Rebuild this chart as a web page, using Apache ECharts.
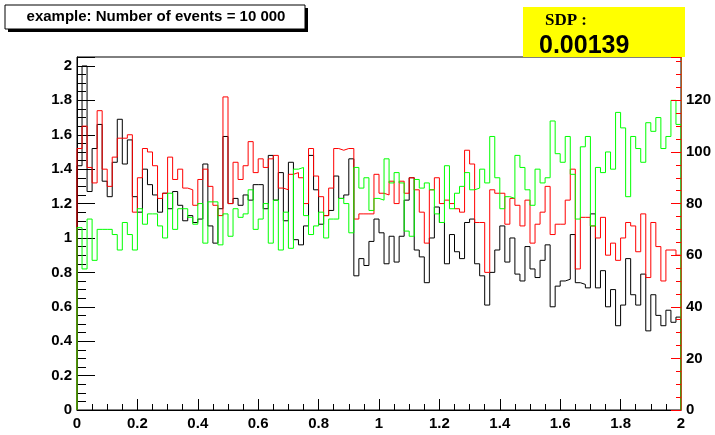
<!DOCTYPE html>
<html>
<head>
<meta charset="utf-8">
<script src="https://cdn.jsdelivr.net/npm/echarts@6/dist/echarts.min.js"></script>
<style>
html, body { margin: 0; padding: 0; background: #fff; }
#chart { width: 715px; height: 435px; }
</style>
</head>
<body>
<div id="chart"></div>
<script>
// histogram: 120 bins between 0 and 2
var nBins = 120;
var xMin = 0, xMax = 2;

var blackVals = [
  1.42, 2.00, 1.27, 1.52, 1.66, 1.33, 1.24, 1.44, 1.69, 1.43,
  1.57, 1.24, 1.15, 1.40, 1.31, 1.25, 1.15, 1.26, 1.17, 1.27,
  1.19, 1.10, 1.13, 1.09, 1.11, 1.43, 1.07, 0.97, 1.17, 1.59,
  1.20, 1.23, 1.19, 1.25, 1.22, 1.31, 1.31, 1.17, 1.48, 1.22,
  1.38, 1.10, 1.44, 0.99, 0.96, 1.07, 1.48, 1.28, 1.08, 1.13,
  1.16, 1.36, 1.23, 1.25, 1.46, 0.78, 0.88, 0.84, 0.98, 1.11,
  1.03, 0.85, 1.01, 0.86, 1.01, 1.22, 1.35, 0.93, 0.89, 0.74,
  1.00, 1.18, 1.09, 0.85, 1.02, 0.92, 0.88, 1.09, 1.11, 0.85,
  0.78, 0.61, 0.80, 0.93, 1.07, 0.86, 1.00, 0.79, 0.75, 0.95,
  0.82, 0.77, 0.87, 0.96, 0.60, 0.72, 0.75, 0.76, 1.02, 0.74,
  0.73, 0.71, 1.14, 0.71, 0.81, 0.60, 0.70, 0.49, 0.61, 0.88,
  0.67, 0.61, 0.79, 0.46, 0.67, 0.55, 0.49, 0.58, 0.51, 0.54
];

var redVals = [
  1.52, 1.65, 1.41, 1.32, 1.74, 1.40, 1.30, 1.47, 1.58, 1.58,
  1.60, 1.15, 1.35, 1.52, 1.50, 1.42, 1.23, 1.26, 1.47, 1.34,
  1.40, 1.29, 1.28, 1.19, 1.34, 1.40, 1.30, 1.19, 1.13, 1.82,
  1.20, 1.44, 1.34, 1.42, 1.56, 1.38, 1.46, 1.41, 1.46, 1.48,
  1.29, 1.28, 1.37, 1.38, 1.35, 1.20, 1.52, 1.36, 1.24, 1.13,
  1.29, 1.52, 1.51, 1.52, 1.52, 1.11, 1.14, 1.14, 1.14, 1.37,
  1.26, 1.25, 1.33, 1.20, 1.33, 1.26, 1.35, 1.28, 1.15, 0.97,
  1.28, 1.35, 1.20, 1.22, 1.20, 1.17, 1.15, 1.51, 1.43, 1.09,
  1.09, 0.80, 1.28, 1.26, 1.26, 1.08, 1.23, 1.19, 1.07, 1.22,
  0.97, 1.08, 1.15, 1.30, 1.02, 1.08, 1.08, 1.22, 1.40, 0.82,
  1.12, 1.12, 1.07, 1.00, 1.12, 0.90, 0.97, 0.87, 1.00, 1.09,
  1.07, 0.92, 1.14, 0.77, 1.09, 0.95, 0.75, 0.93, 0.93, 0.90
];

var greenVals = [
  1.06, 0.82, 1.11, 0.87, 1.05, 1.05, 1.05, 1.02, 0.93, 1.09,
  1.02, 0.93, 1.17, 1.08, 1.14, 1.14, 1.07, 1.00, 1.26, 1.05,
  1.17, 1.17, 1.12, 1.08, 1.20, 0.97, 1.21, 1.21, 0.96, 1.14,
  1.01, 1.17, 1.12, 1.14, 1.28, 1.05, 1.11, 1.20, 0.97, 1.22,
  0.93, 1.15, 0.94, 1.40, 1.41, 1.13, 1.02, 1.07, 1.15, 1.00,
  1.11, 1.11, 1.23, 1.20, 1.03, 1.41, 1.29, 1.35, 1.16, 1.23,
  1.22, 1.46, 1.32, 1.38, 1.32, 1.04, 1.01, 1.34, 1.29, 1.32,
  1.28, 1.14, 1.09, 1.42, 1.17, 1.26, 1.30, 1.38, 1.28, 1.29,
  1.40, 1.32, 1.59, 1.35, 1.17, 1.24, 1.23, 1.48, 1.41, 1.28,
  1.19, 1.40, 1.32, 1.35, 1.68, 1.49, 1.44, 1.59, 1.37, 1.11,
  1.53, 1.59, 1.07, 1.41, 1.38, 1.50, 1.40, 1.73, 1.64, 1.24,
  1.59, 1.52, 1.44, 1.67, 1.62, 1.70, 1.52, 1.59, 1.80, 1.66
];

var xTickLabels = ['0', '0.2', '0.4', '0.6', '0.8', '1', '1.2', '1.4', '1.6', '1.8', '2'];
var leftTickLabels = ['0', '0.2', '0.4', '0.6', '0.8', '1', '1.2', '1.4', '1.6', '1.8', '2'];
var rightTickLabels = ['0', '20', '40', '60', '80', '100', '120'];

var titleText = 'example: Number of events = 10 000';
var boxLabel = 'SDP :';
var boxValue = '0.00139';

var chart = echarts.init(document.getElementById('chart'));

// build step outline like ROOT draws a TH1
function histLine(vals) {
  var w = (xMax - xMin) / nBins;
  var d = [[xMin, 0]];
  for (var i = 0; i < vals.length; i++) {
    d.push([xMin + i * w, vals[i]]);
  }
  d.push([xMax, vals[vals.length - 1]]);
  d.push([xMax, 0]);
  return d;
}

function histSeries(vals, color) {
  return {
    type: 'line',
    step: 'end',
    data: histLine(vals),
    symbol: 'none',
    lineStyle: { color: color, width: 1 },
    silent: true
  };
}

var labelFont = {
  color: '#000',
  fontFamily: 'Liberation Sans',
  fontWeight: 'bold',
  fontSize: 15
};

option = {
  animation: false,
  backgroundColor: '#fff',
  grid: {
    left: 77, right: 34, top: 57, bottom: 25,
    show: true, borderColor: '#000', borderWidth: 1
  },
  xAxis: {
    type: 'value', min: xMin, max: xMax, interval: 0.2,
    axisLine: { lineStyle: { color: '#000' } },
    axisTick: { inside: true, length: 11, lineStyle: { color: '#000' } },
    minorTick: { show: true, splitNumber: 4, length: 6, lineStyle: { color: '#000' } },
    splitLine: { show: false },
    axisLabel: Object.assign({
      margin: 6,
      formatter: function (v) { return xTickLabels[Math.round(v / 0.2)]; }
    }, labelFont)
  },
  yAxis: [{
    type: 'value', min: 0, max: 2.052, interval: 0.2,
    axisLine: { show: true, lineStyle: { color: '#000' } },
    axisTick: { inside: true, length: 18, lineStyle: { color: '#000' } },
    minorTick: { show: true, splitNumber: 4, length: 9, lineStyle: { color: '#000' } },
    splitLine: { show: false },
    axisLabel: Object.assign({
      margin: 5, showMaxLabel: false,
      formatter: function (v) { return leftTickLabels[Math.round(v / 0.2)]; }
    }, labelFont)
  }, {
    type: 'value', position: 'right', min: 0, max: 136.8, interval: 20,
    z: 5,
    axisLine: { show: true, lineStyle: { color: '#b5541b' } },
    axisTick: { inside: true, length: 10, lineStyle: { color: '#ff0000' } },
    minorTick: { show: true, splitNumber: 4, length: 5, lineStyle: { color: '#ff0000' } },
    splitLine: { show: false },
    axisLabel: Object.assign({
      margin: 5, showMaxLabel: false,
      formatter: function (v) { return rightTickLabels[Math.round(v / 20)]; }
    }, labelFont)
  }],
  series: [
    histSeries(blackVals, '#000000'),
    histSeries(redVals, '#ff0000'),
    histSeries(greenVals, '#00ff00')
  ],
  graphic: [
    // title pave with shadow
    { type: 'rect', shape: { x: 8, y: 8, width: 300, height: 24 }, style: { fill: '#000' }, z: 10 },
    { type: 'rect', shape: { x: 5, y: 5, width: 300, height: 24 }, style: { fill: '#fff', stroke: '#000', lineWidth: 1 }, z: 11 },
    {
      type: 'text', x: 156, y: 17, z: 12,
      style: {
        text: titleText, fill: '#000', align: 'center', verticalAlign: 'middle',
        font: 'bold 15px "Liberation Sans"'
      }
    },
    // yellow SDP box
    { type: 'rect', shape: { x: 523, y: 7, width: 162, height: 50 }, style: { fill: '#ffff00' }, z: 10 },
    {
      type: 'text', x: 545, y: 21, z: 12,
      style: {
        text: boxLabel, fill: '#000', align: 'left', verticalAlign: 'middle',
        font: 'bold 17px "Liberation Serif"'
      }
    },
    {
      type: 'text', x: 539, y: 46, z: 12,
      style: {
        text: boxValue, fill: '#000', align: 'left', verticalAlign: 'middle',
        font: 'bold 25px "Liberation Sans"'
      }
    }
  ]
};

chart.setOption(option);
</script>
</body>
</html>
